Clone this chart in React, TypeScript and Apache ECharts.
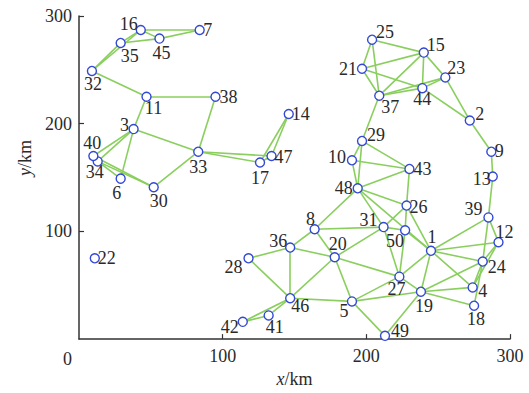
import React, { useEffect, useRef } from "react";
import * as echarts from "echarts";

// Node coordinates in km (index 0 is node 1)
const nodeX = [
  245, 272, 38, 274, 190, 29, 84, 164, 287, 190,
  47, 292, 288, 146, 240, 43, 126, 275, 238, 178,
  197, 11, 255, 281, 204, 228, 223, 118, 197, 52,
  212, 9, 83, 13, 29, 147, 209, 95, 285, 10,
  132, 114, 230, 239, 56, 147, 134, 194, 213, 227,
];
const nodeY = [
  82, 203, 195, 48, 35, 149, 287, 102, 174, 166,
  225, 90, 151, 209, 266, 287, 164, 31, 44, 76,
  251, 75, 243, 72, 278, 124, 58, 75, 184, 141,
  104, 249, 174, 165, 275, 85, 226, 225, 113, 170,
  22, 16, 158, 233, 279, 38, 170, 140, 3, 101,
];

// Connections between numbered nodes
const edges: [number, number][] = [
  [16, 7], [16, 45], [35, 45], [45, 7], [32, 35], [32, 16], [16, 35],
  [32, 11], [11, 38], [11, 3], [38, 33], [3, 40], [3, 34], [3, 6], [3, 33],
  [34, 6], [34, 30], [40, 30], [30, 33], [33, 17], [33, 47], [17, 14],
  [47, 14], [17, 47],
  [25, 15], [25, 21], [25, 37], [21, 15], [21, 37], [21, 44], [15, 37],
  [15, 44], [15, 23], [37, 44], [37, 23], [44, 23], [44, 2], [23, 2],
  [2, 9], [9, 13], [13, 39], [37, 29], [29, 10], [29, 43], [29, 48],
  [10, 48], [10, 43], [48, 43], [43, 26], [48, 26], [48, 8], [48, 31],
  [48, 1], [8, 36], [8, 31], [8, 20], [31, 50], [31, 26], [31, 20],
  [31, 27], [26, 50], [50, 27], [26, 1], [50, 1], [1, 39], [1, 12],
  [1, 24], [1, 4], [1, 19], [1, 27], [39, 12], [39, 24], [12, 24],
  [12, 4], [24, 4], [24, 18], [24, 19], [4, 19], [18, 19], [19, 27],
  [19, 5], [19, 49], [27, 5], [27, 20], [20, 36], [20, 5], [20, 46],
  [36, 28], [36, 46], [28, 46], [46, 41], [46, 42], [41, 42], [46, 5],
  [5, 49],
];

// Axis ticks (km)
const xTicks = [0, 100, 200, 300];
const yTicks = [0, 100, 200, 300];

// Pixel offset of each node's number from the node centre
const labelOffsets: [number, number][] = [
  [1, -14], [10, -6], [-9, -4], [10, 4], [-8, 10], [-4, 14], [8, 0], [-4, -10], [8, -1], [-15, -3],
  [7, 11], [6, -10], [-11, 3], [12, 0], [12, -8], [-12, -6], [0, 16], [2, 13], [3, 14], [3, -13],
  [-14, 0], [12, 0], [11, -9], [14, 5], [13, -8], [12, 1], [-3, 12], [-15, 9], [14, -6], [5, 14],
  [-15, -7], [1, 13], [0, 15], [-3, 11], [9, 13], [-12, -7], [11, 11], [13, 0], [-15, -8], [-1, -13],
  [6, 12], [-13, 5], [13, 0], [0, 11], [2, 14], [10, 8], [12, 1], [-14, 0], [15, -5], [-10, 11],
];

const SERIF = "Liberation Serif, Times New Roman, Times, serif";
const TEXT = "#2a2a2a";
const AXIS = "#333333";
const FS = 18;

export default function App() {
  const ref = useRef<HTMLDivElement>(null);

  useEffect(() => {
    if (!ref.current) return;
    const chart = echarts.init(ref.current, undefined, { renderer: "svg" });

    const nodes = nodeX.map((x, i) => ({
      name: String(i + 1),
      value: [x, nodeY[i]],
      label: {
        show: true,
        position: "inside" as const,
        offset: labelOffsets[i],
        formatter: "{b}",
        fontFamily: SERIF,
        fontSize: FS,
        color: TEXT,
      },
    }));

    const links = edges.map(([a, b]) => ({ source: a - 1, target: b - 1 }));

    chart.setOption({
      animation: false,
      backgroundColor: "#ffffff",
      grid: { left: 79, right: 19, top: 16, bottom: 50, containLabel: false },
      xAxis: {
        type: "value",
        min: xTicks[0],
        max: xTicks[xTicks.length - 1],
        interval: xTicks[1] - xTicks[0],
        name: "{i|x}/km",
        nameLocation: "middle",
        nameGap: 29,
        nameTextStyle: {
          fontFamily: SERIF,
          fontSize: FS,
          color: TEXT,
          rich: { i: { fontFamily: SERIF, fontSize: FS, fontStyle: "italic", color: TEXT } },
        },
        axisLine: { show: true, lineStyle: { color: AXIS, width: 1.5 } },
        axisTick: { show: true, inside: true, length: 5, lineStyle: { color: AXIS, width: 1.2 } },
        axisLabel: {
          showMinLabel: false,
          margin: 8,
          fontFamily: SERIF,
          fontSize: FS,
          color: TEXT,
        },
        splitLine: { show: false },
      },
      yAxis: {
        type: "value",
        min: yTicks[0],
        max: yTicks[yTicks.length - 1],
        interval: yTicks[1] - yTicks[0],
        axisLine: { show: true, lineStyle: { color: AXIS, width: 1.5 } },
        axisTick: { show: true, inside: true, length: 5, lineStyle: { color: AXIS, width: 1.2 } },
        axisLabel: {
          showMinLabel: false,
          margin: 7,
          fontFamily: SERIF,
          fontSize: FS,
          color: TEXT,
        },
        splitLine: { show: false },
      },
      graphic: [
        {
          type: "text",
          left: 63,
          top: 350,
          style: { text: "0", fontFamily: SERIF, fontSize: FS, fill: TEXT },
        },
        {
          type: "text",
          x: 25,
          y: 158,
          rotation: Math.PI / 2,
          style: {
            text: "{i|y}/km",
            fontFamily: SERIF,
            fontSize: FS,
            fill: TEXT,
            align: "center",
            verticalAlign: "middle",
            rich: { i: { fontFamily: SERIF, fontSize: FS, fontStyle: "italic", fill: TEXT } },
          },
        },
      ],
      series: [
        {
          type: "graph",
          coordinateSystem: "cartesian2d",
          layout: "none",
          symbol: "circle",
          symbolSize: 9,
          itemStyle: { color: "#ffffff", borderColor: "#3348d6", borderWidth: 1.4 },
          lineStyle: { color: "#8acf5e", width: 1.6, opacity: 1, curveness: 0 },
          emphasis: { disabled: true },
          data: nodes,
          links,
        },
      ],
    });

    return () => chart.dispose();
  }, []);

  return (
    <div
      ref={ref}
      style={{ position: "absolute", left: 0, top: 0, width: 529, height: 393 }}
    />
  );
}
